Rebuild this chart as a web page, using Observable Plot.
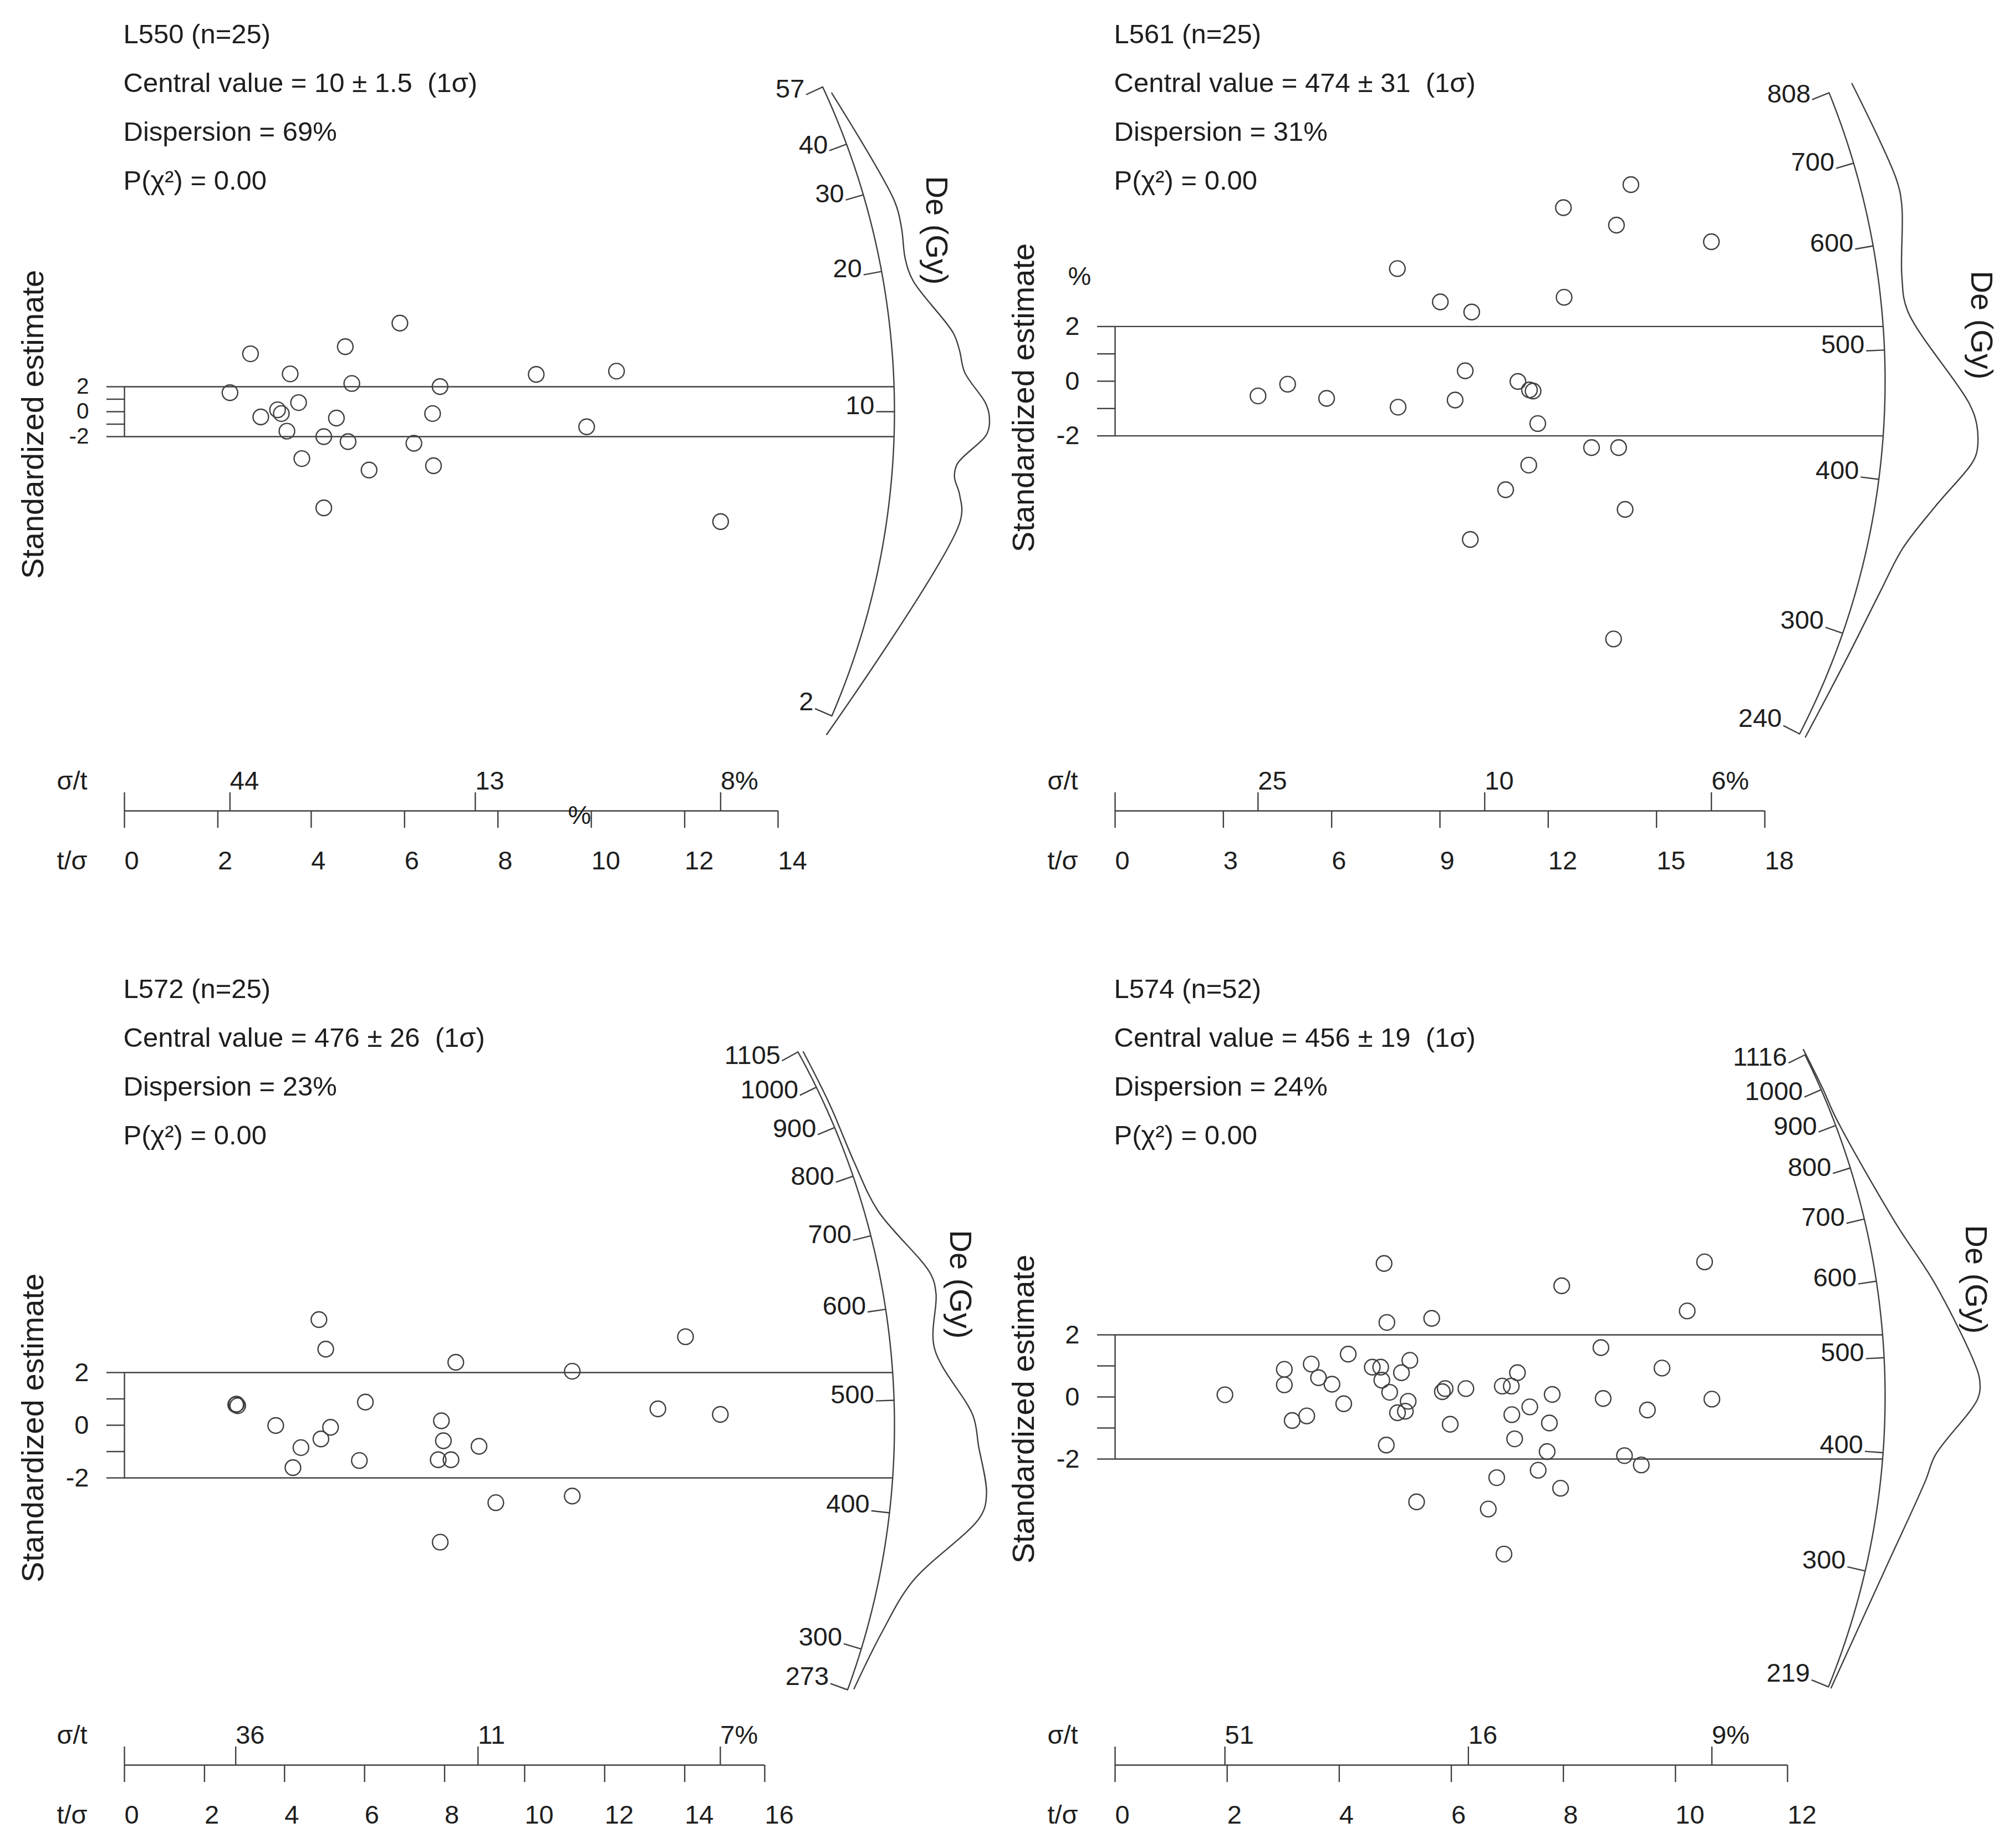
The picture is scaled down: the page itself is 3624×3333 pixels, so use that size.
<!DOCTYPE html>
<html>
<head>
<meta charset="utf-8">
<script src="https://cdn.jsdelivr.net/npm/d3@7"></script>
<script src="https://cdn.jsdelivr.net/npm/@observablehq/plot@0.6"></script>
<style>
  html, body { margin: 0; padding: 0; background: #fff; overflow: hidden; }
  #grid { display: grid; grid-template-columns: 1787px 1837px; grid-template-rows: 1722px 1611px; width: 3624px; height: 3333px; }
  #grid > svg { display: block; }
</style>
</head>
<body>
<div id="grid"></div>
<script>
// ---------------- DATA ----------------
const sampleNames = ["L550", "L561", "L572", "L574"];
const sampleCounts = [25, 25, 25, 52];
const centralValues = [10, 474, 476, 456];
const centralErrors = ["1.5", "31", "26", "19"];
const dispersions = ["69%", "31%", "23%", "24%"];
const pChiSquared = ["0.00", "0.00", "0.00", "0.00"];

// L550
const l550Precision = [2.26, 2.70, 2.92, 3.28, 3.36, 3.55, 3.48, 3.73, 3.80, 4.27, 4.27, 4.54, 4.73, 4.79, 4.87, 5.24, 5.90, 6.20, 6.60, 6.62, 6.76, 8.82, 9.90, 10.54, 12.77];
const l550Z = [1.52, 4.64, -0.42, 0.15, -0.15, 3.03, -1.56, 0.73, -3.76, -2.00, -7.71, -0.51, 5.21, -2.40, 2.26, -4.68, 7.10, -2.53, -0.15, -4.33, 2.01, 2.99, -1.21, 3.25, -8.81];
const l550DeTicks = [57, 40, 30, 20, 10, 2];
const l550PrecisionTicks = [0, 2, 4, 6, 8, 10, 12, 14];
const l550RelErrorLabels = ["44", "13", "8%"];
const l550CurveDe = [53.96, 27.68, 24.17, 20.79, 18.62, 14.26, 13.16, 11.92, 10.39, 9.82, 9.10, 7.91, 7.45, 6.90, 6.14, 1.79];
const l550CurveDensity = [0.06, 0.30, 0.30, 0.27, 0.31, 0.66, 0.71, 0.75, 0.96, 1.00, 0.98, 0.68, 0.66, 0.73, 0.77, 0.03];

// L561
const l561Precision = [3.96, 4.78, 5.86, 7.82, 7.84, 9.01, 9.42, 9.70, 9.88, 9.84, 10.82, 11.16, 11.48, 11.58, 11.46, 11.71, 12.42, 12.44, 13.20, 13.89, 13.95, 13.81, 14.13, 14.29, 16.52];
const l561Z = [-0.54, -0.11, -0.63, 4.12, -0.95, 2.90, -0.69, 0.38, 2.53, -5.79, -3.97, -0.01, -0.32, -0.36, -3.07, -1.55, 6.35, 3.07, -2.43, 5.71, -2.43, -9.43, -4.69, 7.19, 5.10];
const l561DeTicks = [808, 700, 600, 500, 400, 300, 240];
const l561PrecisionTicks = [0, 3, 6, 9, 12, 15, 18];
const l561RelErrorLabels = ["25", "10", "6%"];
const l561CurveDe = [808, 666, 636, 565, 533, 458, 443, 426, 418, 387.5, 358, 330, 287, 240];
const l561CurveDensity = [0.26, 0.39, 0.38, 0.25, 0.27, 0.89, 0.98, 1.00, 0.96, 0.63, 0.37, 0.25, 0.13, 0.07];

// L572
const l572Precision = [4.86, 5.03, 8.28, 11.19, 14.02, 2.78, 2.83, 6.02, 13.33, 14.89, 3.78, 5.15, 4.91, 4.41, 4.21, 5.87, 7.92, 7.97, 8.86, 7.84, 8.16, 9.28, 11.19, 7.89, 2.80];
const l572Z = [4.01, 2.89, 2.39, 2.05, 3.36, 0.78, 0.74, 0.88, 0.62, 0.41, -0.01, -0.08, -0.52, -0.85, -1.61, -1.34, 0.17, -0.59, -0.80, -1.31, -1.31, -2.94, -2.69, -4.44, 0.80];
const l572DeTicks = [1105, 1000, 900, 800, 700, 600, 500, 400, 300, 273];
const l572PrecisionTicks = [0, 2, 4, 6, 8, 10, 12, 14, 16];
const l572RelErrorLabels = ["36", "11", "7%"];
const l572CurveDe = [1098, 950, 823, 734, 633, 609, 550, 484, 458.7, 421.6, 405, 352, 314, 275];
const l572CurveDensity = [0.05, 0.05, 0.06, 0.14, 0.53, 0.55, 0.46, 0.83, 0.89, 1.00, 0.96, 0.35, 0.16, 0.06];

// L574
const l574Precision = [1.96, 3.02, 3.02, 3.16, 3.42, 3.50, 3.63, 3.87, 4.08, 4.16, 4.59, 4.74, 4.76, 4.80, 4.85, 4.84, 4.90, 5.04, 5.11, 5.18, 5.23, 5.26, 5.38, 5.65, 5.84, 5.89, 5.98, 6.26, 6.66, 6.81, 6.91, 7.07, 6.94, 7.08, 7.13, 7.18, 7.40, 7.55, 7.71, 7.75, 7.80, 7.95, 7.97, 8.67, 8.71, 9.09, 9.39, 9.50, 9.76, 10.21, 10.52, 10.65];
const l574Z = [0.07, 0.89, 0.39, -0.76, -0.61, 1.06, 0.62, 0.41, -0.22, 1.38, 0.96, 0.96, 0.54, 4.30, 2.40, -1.55, 0.15, -0.51, 0.78, -0.46, -0.14, 1.18, -3.38, 2.53, 0.17, 0.27, -0.88, 0.27, -3.61, -2.60, 0.35, 0.35, -5.06, -0.57, -1.35, 0.78, -0.32, -2.36, -1.76, -0.84, 0.08, -2.94, 3.58, 1.59, -0.05, -1.89, -2.19, -0.42, 0.93, 2.77, 4.35, -0.07];
const l574DeTicks = [1116, 1000, 900, 800, 700, 600, 500, 400, 300, 219];
const l574PrecisionTicks = [0, 2, 4, 6, 8, 10, 12];
const l574RelErrorLabels = ["51", "16", "9%"];
const l574CurveDe = [1134, 1000, 918, 683, 584.6, 489.7, 471.9, 454.9, 401, 378, 304, 219];
const l574CurveDensity = [0.01, 0.02, 0.03, 0.31, 0.61, 0.95, 1.00, 0.98, 0.55, 0.47, 0.20, 0.03];

// ---------------- LAYOUT & STYLE ----------------
const FONT = "'Liberation Sans', Arial, Helvetica, sans-serif";
const INK = "#1e1e1e";
const LINE = "#404040";
const LW = 2.4;
const ORIGIN_X = 224;     // pixel position of t/sigma = 0
const ARC_R = 1389;       // radius of the De arc (px)
const DENS_PX = 171;      // px for relative density 1
const TOP_MARGIN = 40;
const FS_HEAD = 49, FS_NUM = 47, FS_TITLE = 56;

const layouts = [
  {width: 1787, height: 1722, originY: 742, ky: 22.5, axisY: 1462, xEnd: 1403, deLabel: [1688, 415], yTitleY: 765, stray: [[1045, 1470]]},
  {width: 1837, height: 1722, originY: 687, ky: 49.3, axisY: 1462, xEnd: 1396, deLabel: [1786, 586], yTitleY: 717, stray: [[160, 498]]},
  {width: 1787, height: 1611, originY: 848, ky: 47.5, axisY: 1461, xEnd: 1379, deLabel: [1731, 594], yTitleY: 853, stray: []},
  {width: 1837, height: 1611, originY: 797, ky: 56.0, axisY: 1461, xEnd: 1437, deLabel: [1776, 585], yTitleY: 819, stray: []}
];

const panels = [
  {precision: l550Precision, z: l550Z, deTicks: l550DeTicks, precisionTicks: l550PrecisionTicks, relErrorLabels: l550RelErrorLabels, curveDe: l550CurveDe, curveDensity: l550CurveDensity},
  {precision: l561Precision, z: l561Z, deTicks: l561DeTicks, precisionTicks: l561PrecisionTicks, relErrorLabels: l561RelErrorLabels, curveDe: l561CurveDe, curveDensity: l561CurveDensity},
  {precision: l572Precision, z: l572Z, deTicks: l572DeTicks, precisionTicks: l572PrecisionTicks, relErrorLabels: l572RelErrorLabels, curveDe: l572CurveDe, curveDensity: l572CurveDensity},
  {precision: l574Precision, z: l574Z, deTicks: l574DeTicks, precisionTicks: l574PrecisionTicks, relErrorLabels: l574RelErrorLabels, curveDe: l574CurveDe, curveDensity: l574CurveDensity}
];

function buildPanel(i, d) {
  const L = layouts[i];
  const c = centralValues[i];
  const xMax = d3.max(d.precisionTicks);
  const marginLeft = ORIGIN_X, marginRight = L.width - L.xEnd;
  const marginTop = TOP_MARGIN, marginBottom = L.height - L.axisY;
  const kx = (L.xEnd - ORIGIN_X) / xMax;
  const ky = L.ky;
  const yLo = -(L.axisY - L.originY) / ky;
  const yHi = (L.originY - marginTop) / ky;
  const px = v => v / kx, py = v => v / ky;
  const angle = De => Math.atan(Math.log(De / c) * ky / kx);
  const polar = (De, r) => { const a = angle(De); return {x: r * Math.cos(a) / kx, y: r * Math.sin(a) / ky}; };
  const at = (X, Y) => ({frameAnchor: "top-left", dx: X - marginLeft, dy: Y - marginTop});

  const points = d.precision.map((x, j) => ({x, z: d.z[j]}));
  const deMin = d3.min(d.deTicks), deMax = d3.max(d.deTicks);
  const arc = d3.range(0, 241).map(k => polar(deMin * Math.pow(deMax / deMin, k / 240), ARC_R));
  const ticks = d.deTicks.map(D => ({D, a: polar(D, ARC_R - 33), b: polar(D, ARC_R), t: polar(D, ARC_R - 36)}));
  const curve = d.curveDe.map((D, j) => polar(D, ARC_R + d.curveDensity[j] * DENS_PX));
  const xArc2 = Math.sqrt(ARC_R * ARC_R - (2 * ky) * (2 * ky)) / kx;
  const pMin = d3.min(d.precision), pMax = d3.max(d.precision);
  const relPos = [pMin, (pMin + pMax) / 2, pMax];
  const header = [
    `${sampleNames[i]} (n=${sampleCounts[i]})`,
    `Central value = ${c} ± ${centralErrors[i]}\u00a0\u00a0(1σ)`,
    `Dispersion = ${dispersions[i]}`,
    `P(χ²) = ${pChiSquared[i]}`
  ];
  const headerY = [62, 150, 238, 326];
  const fsY = Math.min(FS_NUM, ky * 1.8);

  const txt = {fill: INK, fontFamily: FONT};

  return Plot.plot({
    width: L.width, height: L.height,
    marginLeft, marginRight, marginTop, marginBottom,
    x: {domain: [0, xMax], axis: null},
    y: {domain: [yLo, yHi], axis: null},
    style: {fontFamily: FONT, background: "#fff", color: INK, overflow: "visible"},
    marks: [
      // +/-2 band lines and y axis
      Plot.ruleY([-2, 2], {y: v => v, x1: 0, x2: xArc2, stroke: LINE, strokeWidth: LW}),
      Plot.ruleX([0], {x: v => v, y1: -2, y2: 2, stroke: LINE, strokeWidth: LW}),
      Plot.ruleY([-2, -1, 0, 1, 2], {y: v => v, x1: px(-32), x2: 0, stroke: LINE, strokeWidth: LW}),
      Plot.text(["2", "0", "-2"], {x: 0, y: v => +v, text: v => v, dx: -64, textAnchor: "end", lineAnchor: "middle", fontSize: fsY, ...txt}),
      // points
      Plot.dot(points, {x: "x", y: "z", r: 14, stroke: LINE, strokeWidth: LW, fill: "none"}),
      // De arc, ticks and labels
      Plot.line(arc, {x: "x", y: "y", stroke: LINE, strokeWidth: LW}),
      Plot.link(ticks, {x1: t => t.a.x, y1: t => t.a.y, x2: t => t.b.x, y2: t => t.b.y, stroke: LINE, strokeWidth: LW}),
      Plot.text(ticks, {x: t => t.t.x, y: t => t.t.y, text: t => String(t.D), textAnchor: "end", lineAnchor: "bottom", dy: 4, fontSize: FS_NUM, ...txt}),
      // density curve
      Plot.line(curve, {x: "x", y: "y", stroke: LINE, strokeWidth: LW, curve: "catmull-rom"}),
      // t/sigma axis
      Plot.ruleY([yLo], {y: v => v, x1: 0, x2: xMax, stroke: LINE, strokeWidth: LW}),
      Plot.ruleX(d.precisionTicks, {x: v => v, y1: yLo, y2: yLo - py(31), stroke: LINE, strokeWidth: LW}),
      Plot.text(d.precisionTicks, {x: v => v, y: yLo, text: v => String(v), dy: 90, textAnchor: "start", lineAnchor: "middle", fontSize: FS_NUM, ...txt}),
      // sigma/t axis
      Plot.ruleX([0, ...relPos], {x: v => v, y1: yLo, y2: yLo + py(33), stroke: LINE, strokeWidth: LW}),
      Plot.text(relPos, {x: v => v, y: yLo, text: (v, j) => d.relErrorLabels[j], dy: -54, textAnchor: "start", lineAnchor: "middle", fontSize: FS_NUM, ...txt}),
      Plot.text(["σ/t"], {...at(102, L.axisY - 54), textAnchor: "start", lineAnchor: "middle", fontSize: FS_NUM, ...txt}),
      Plot.text(["t/σ"], {...at(102, L.axisY + 90), textAnchor: "start", lineAnchor: "middle", fontSize: FS_NUM, ...txt}),
      // header
      ...header.map((h, j) => Plot.text([h], {...at(222, headerY[j]), textAnchor: "start", lineAnchor: "middle", fontSize: FS_HEAD, ...txt})),
      // axis titles
      Plot.text(["Standardized estimate"], {...at(60, L.yTitleY), rotate: -90, textAnchor: "middle", lineAnchor: "middle", fontSize: FS_TITLE, ...txt}),
      Plot.text(["De (Gy)"], {...at(L.deLabel[0], L.deLabel[1]), rotate: 90, textAnchor: "middle", lineAnchor: "middle", fontSize: FS_TITLE, ...txt}),
      ...L.stray.map(s => Plot.text(["%"], {...at(s[0], s[1]), textAnchor: "middle", lineAnchor: "middle", fontSize: FS_NUM, ...txt}))
    ]
  });
}

const grid = document.getElementById("grid");
panels.forEach((d, i) => grid.appendChild(buildPanel(i, d)));
</script>
</body>
</html>
